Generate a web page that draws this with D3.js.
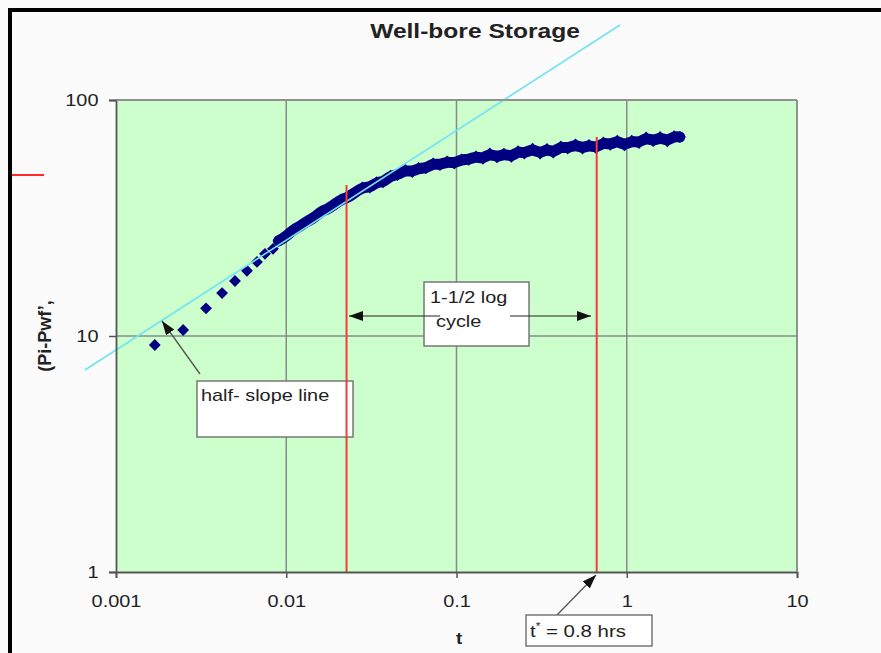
<!DOCTYPE html>
<html><head><meta charset="utf-8">
<script src="https://cdn.jsdelivr.net/npm/d3@7"></script>
<style>
body{margin:0;background:#fbfbfb}
svg{display:block}
text{font-family:Arial,"Liberation Sans",sans-serif;fill:#222}
</style>
</head><body>
<svg id="c" width="881" height="653"></svg>
<script>
// ---- data ----
const tEarly  = [0.00169, 0.00248, 0.00338, 0.0042, 0.005, 0.00588, 0.00673, 0.0075, 0.00836];
const dpEarly = [9.16, 10.6, 13.1, 15.2, 17.1, 18.9, 20.6, 22.3, 23.4];

const tBand = [0.009,0.0099,0.011,0.012,0.013,0.0145,0.016,0.0175,0.019,0.021,0.023,0.025,
  0.028,0.031,0.034,0.037,0.041,0.045,0.05,0.055,0.06,0.066,0.073,0.08,0.088,0.097,0.107,0.118,
  0.13,0.143,0.157,0.173,0.19,0.21,0.23,0.25,0.28,0.31,0.34,0.37,0.41,0.45,0.5,0.55,0.6,0.66,
  0.73,0.8,0.88,0.97,1.07,1.18,1.3,1.43,1.57,1.73,1.9,2.05];
const dpBand = [25.3,26.3,28.2,29.1,30.4,31.6,33.7,34.5,35.9,37.9,38.6,40.3,
  42.6,42.6,44.9,44.8,47.8,48.1,50.6,49.5,51.5,51.3,53.9,53.0,54.9,53.8,56.0,55.8,
  57.7,56.3,59.4,57.1,59.3,57.4,60.7,59.3,62.2,59.3,62.1,59.8,63.6,62.3,64.9,62.3,64.5,62.6,
  66.1,64.6,67.3,64.2,67.2,65.7,69.4,66.9,69.7,66.8,70.3,69.7];

const halfSlopeT  = [0.000657, 0.913];
const halfSlopeDp = [7.18, 207.8];

const markerT     = [0.0226, 0.666];
const markerTopDp = [43.6, 69.7];

const tTicks = [0.001, 0.01, 0.1, 1, 10];
const tTickLabels = ["0.001", "0.01", "0.1", "1", "10"];
const dpTicks = [1, 10, 100];
const dpTickLabels = ["1", "10", "100"];

// ---- layout ----
const svg = d3.select("#c");
const m = {l:116, r:797, t:100, b:572};
const K = 1.17; // horizontal stretch of the original's text
const x = d3.scaleLog().domain([0.001, 10]).range([m.l, m.r]);
const y = d3.scaleLog().domain([1, 100]).range([m.b, m.t]);

// frame
svg.append("rect").attr("x",8).attr("y",8).attr("width",873).attr("height",4).attr("fill","#000");
svg.append("rect").attr("x",8).attr("y",8).attr("width",4).attr("height",645).attr("fill","#000");
svg.append("line").attr("x1",12).attr("x2",44).attr("y1",175).attr("y2",175)
  .attr("stroke","#ff2a2a").attr("stroke-width",2);

// defs
const defs = svg.append("defs");
defs.append("marker").attr("id","ah").attr("markerUnits","userSpaceOnUse")
  .attr("markerWidth",15).attr("markerHeight",11).attr("refX",14).attr("refY",5)
  .attr("orient","auto")
  .append("path").attr("d","M0,0 L14,5 L0,10 Z").attr("fill","#111");

// plot area
svg.append("rect").attr("x",m.l).attr("y",m.t).attr("width",m.r-m.l).attr("height",m.b-m.t)
  .attr("fill","#ccffcc");

// grid
const grid = svg.append("g").attr("stroke","#8a8a8a").attr("stroke-width",1.5);
grid.selectAll(".gx").data(tTicks.slice(1)).join("line")
  .attr("x1",d=>x(d)).attr("x2",d=>x(d)).attr("y1",m.t).attr("y2",m.b);
grid.selectAll(".gy").data(dpTicks.slice(1)).join("line")
  .attr("y1",d=>y(d)).attr("y2",d=>y(d)).attr("x1",m.l).attr("x2",m.r);

// data band
const band = tBand.map((t,i)=>({t, dp: dpBand[i]}));
const early = tEarly.map((t,i)=>({t, dp: dpEarly[i]}));
svg.append("path").datum(band)
  .attr("d", d3.line().x(d=>x(d.t)).y(d=>y(d.dp)).curve(d3.curveBasis))
  .attr("fill","none").attr("stroke","#000080").attr("stroke-width",11)
  .attr("stroke-linecap","round").attr("stroke-linejoin","round");
const sym = d3.symbol().type(d3.symbolSquare).size(70);
svg.append("g").selectAll("path").data(early.concat(band)).join("path")
  .attr("d", sym)
  .attr("transform", d=>`translate(${x(d.t)},${y(d.dp)}) rotate(45)`)
  .attr("fill","#000080");

// half-slope line (cyan)
const hs = halfSlopeT.map((t,i)=>({t, dp: halfSlopeDp[i]}));
svg.append("path").datum(hs)
  .attr("d", d3.line().x(d=>x(d.t)).y(d=>y(d.dp)))
  .attr("stroke","#70e4f2").attr("stroke-width",1.6).attr("fill","none");

// helper for stretched text
function stext(parent, px, py, str, opts={}) {
  const g = parent.append("g").attr("transform",`translate(${px},${py}) scale(${opts.k||K},1)`);
  const t = g.append("text").attr("x",0).attr("y",0)
    .style("font-size",(opts.size||17)+"px")
    .style("font-weight",opts.bold?"bold":"normal")
    .attr("text-anchor",opts.anchor||"start");
  t.text(str);
  return t;
}

// annotation boxes
const ann = svg.append("g");
ann.append("rect").attr("x",197).attr("y",381).attr("width",156).attr("height",56)
  .attr("fill","#fff").attr("stroke","#777").attr("stroke-width",1.5);
stext(ann, 201, 401, "half- slope line");

// red marker lines
svg.append("g").selectAll("line").data(markerT.map((t,i)=>({t, top: markerTopDp[i]}))).join("line")
  .attr("x1",d=>x(d.t)).attr("x2",d=>x(d.t)).attr("y1",d=>y(d.top)).attr("y2",m.b)
  .attr("stroke","#f23c3c").attr("stroke-width",2);

// double arrow
const arr = svg.append("g").attr("stroke","#222").attr("stroke-width",1.2);
arr.append("line").attr("x1",440).attr("y1",316).attr("x2",349).attr("y2",316).attr("marker-end","url(#ah)");
arr.append("line").attr("x1",510).attr("y1",316).attr("x2",591).attr("y2",316).attr("marker-end","url(#ah)");
ann.append("rect").attr("x",424).attr("y",282).attr("width",105).attr("height",64)
  .attr("fill","#fff").attr("stroke","#777").attr("stroke-width",1.5);
const ann2 = svg.append("g");
stext(ann2, 430, 303, "1-1/2 log");
stext(ann2, 436, 327, "cycle");

// half-slope arrow
svg.append("line").attr("x1",200).attr("y1",374).attr("x2",162).attr("y2",321)
  .attr("stroke","#555").attr("stroke-width",1.3).attr("marker-end","url(#ah)");

// axes
const xAxis = svg.append("g").attr("transform",`translate(0,${m.b})`)
  .call(d3.axisBottom(x).tickValues(tTicks).tickFormat((d,i)=>tTickLabels[i]).tickSize(6).tickPadding(17));
const yAxis = svg.append("g").attr("transform",`translate(${m.l},0)`)
  .call(d3.axisLeft(y).tickValues(dpTicks).tickFormat((d,i)=>dpTickLabels[i]).tickSize(7).tickPadding(8));
[xAxis,yAxis].forEach(a=>{
  a.select(".domain").attr("stroke","#555").attr("stroke-width",1.8);
  a.selectAll(".tick line").attr("stroke","#555").attr("stroke-width",1.5);
  a.selectAll(".tick text").style("font-size","17px").style("font-family","Arial, 'Liberation Sans', sans-serif")
    .attr("fill","#222").attr("transform",`scale(${K},1)`);
});
// top & right plot border
svg.append("line").attr("x1",m.l).attr("x2",m.r).attr("y1",m.t).attr("y2",m.t).attr("stroke","#8a8a8a").attr("stroke-width",1.5);
svg.append("line").attr("x1",m.r).attr("x2",m.r).attr("y1",m.t).attr("y2",m.b).attr("stroke","#8a8a8a").attr("stroke-width",1.5);

// t* box + arrow
svg.append("line").attr("x1",557).attr("y1",615).attr("x2",596).attr("y2",575)
  .attr("stroke","#555").attr("stroke-width",1.3).attr("marker-end","url(#ah)");
svg.append("rect").attr("x",526).attr("y",615).attr("width",126).attr("height",31)
  .attr("fill","#fff").attr("stroke","#777").attr("stroke-width",1.5);
{
  const g = svg.append("g").attr("transform",`translate(530,637) scale(1.2,1)`);
  const t = g.append("text").style("font-size","17px");
  t.append("tspan").text("t");
  t.append("tspan").text("*").style("font-size","10px").attr("dy",-7);
  t.append("tspan").text(" = 0.8 hrs").attr("dy",7);
}

// titles
stext(svg, 475, 38, "Well-bore Storage", {bold:true, size:21, anchor:"middle"});
stext(svg, 459, 644, "t", {bold:true, size:17, anchor:"middle", k:1.1});
svg.append("text").attr("transform","translate(51,336) rotate(-90)")
  .attr("text-anchor","middle").style("font-size","18px").style("font-weight","bold")
  .text("(Pi-Pwf\u2019,");
</script>
</body></html>
